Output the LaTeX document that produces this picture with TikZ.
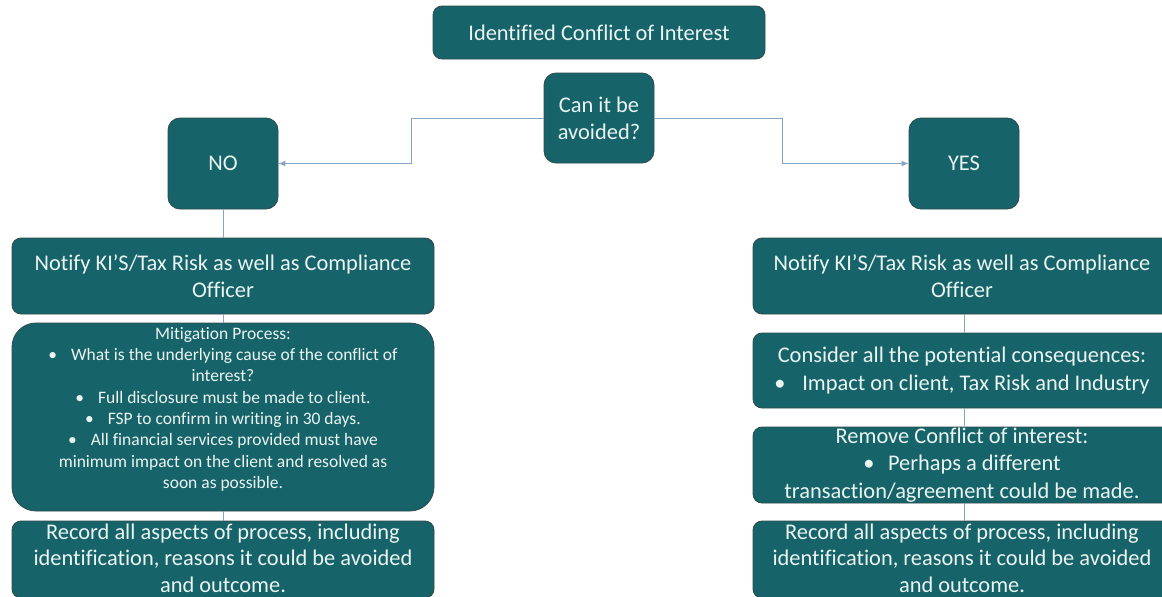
\documentclass[tikz,border=0pt]{standalone}
\usepackage{fontspec}
\setmainfont{Carlito}[Ligatures=NoCommon]
\usetikzlibrary{arrows.meta}
\definecolor{teal}{HTML}{17636A}
\definecolor{edge}{HTML}{2E4A4C}
\definecolor{txt}{HTML}{EAF5F2}
\definecolor{conn}{HTML}{86A5C4}
\tikzset{
  box/.style={draw=edge, line width=0.8pt, fill=teal, text=txt, rounded corners=9pt,
    align=center, inner sep=0pt, font=\fontsize{22.4}{27.3}\selectfont},
  bigbox/.style={box, rounded corners=24pt, font=\fontsize{17.5}{21.3}\selectfont},
  recbox/.style={box, font=\fontsize{22.4}{26.3}\selectfont},
  link/.style={draw=conn, line width=1pt},
  arr/.style={link, -{Latex[length=7pt,width=6pt]}}
}
\newcommand{\bul}[1][0.8em]{\textbullet\hspace{#1}}
\begin{document}
\begin{tikzpicture}[x=1pt,y=-1pt]
\useasboundingbox (0,0) rectangle (1162,597);
\clip (0,0) rectangle (1162,597);
% top
\node[box, minimum width=332pt, minimum height=53pt] (top) at (599,32.5) {Identified Conflict of Interest};
\node[box, rounded corners=12pt, minimum width=110pt, minimum height=90pt] (q) at (599,118) {Can it be\\avoided?};
\node[box, rounded corners=12pt, minimum width=110pt, minimum height=91pt] (no) at (223,163.5) {NO};
\node[box, rounded corners=12pt, minimum width=110pt, minimum height=91pt] (yes) at (964,163.5) {YES};
% left column
\node[box, minimum width=422pt, minimum height=76pt] (lnot) at (223,276) {Notify KI’S/Tax Risk as well as Compliance\\Officer};
\node[bigbox, minimum width=422pt, minimum height=188pt] (mit) at (223,417) {};
\node[text=txt, align=center, inner sep=0pt, font=\fontsize{17.5}{21.3}\selectfont, anchor=north] (mittext) at (223,327)
  {Mitigation Process:\\
   \bul What is the underlying cause of the conflict of\\
   interest?\\
   \bul Full disclosure must be made to client.\\
   \bul FSP to confirm in writing in 30 days.\\
   \bul All financial services provided must have\\
   minimum impact on the client and resolved as\\
   soon as possible.};
\node[recbox, minimum width=422pt, minimum height=77pt] (lrec) at (223,559.5) {Record all aspects of process, including\\identification, reasons it could be avoided\\and outcome.\vphantom{(}};
% right column
\node[box, minimum width=418pt, minimum height=76pt] (rnot) at (962,276) {Notify KI’S/Tax Risk as well as Compliance\\Officer};
\node[box, minimum width=418pt, minimum height=75pt] (cons) at (962,370.5) {Consider all the potential consequences:\\\bul[0.75em]Impact on client, Tax Risk and Industry};
\node[box, minimum width=418pt, minimum height=76pt] (rem) at (962,465) {Remove Conflict of interest:\\\bul[0.6em]Perhaps a different\\transaction/agreement could be made.};
\node[recbox, minimum width=418pt, minimum height=77pt] (rrec) at (962,559.5) {Record all aspects of process, including\\identification, reasons it could be avoided\\and outcome.\vphantom{(}};
% connectors
\coordinate (lk) at (411,118);
\coordinate (rk) at (782,118);
\draw[arr] (q.west) -- (lk) |- (no.east);
\draw[arr] (q.east) -- (rk) |- (yes.west);
\draw[link] (no.south) -- (lnot.north);
\draw[link] (lnot.south) -- (lnot.south |- mit.north);
\draw[link] (mit.south) -- (mit.south |- lrec.north);
\draw[link] (rnot.south -| yes.south) -- (yes.south |- cons.north);
\draw[link] (cons.south -| yes.south) -- (yes.south |- rem.north);
\draw[link] (rem.south -| yes.south) -- (yes.south |- rrec.north);
\end{tikzpicture}
\end{document}
